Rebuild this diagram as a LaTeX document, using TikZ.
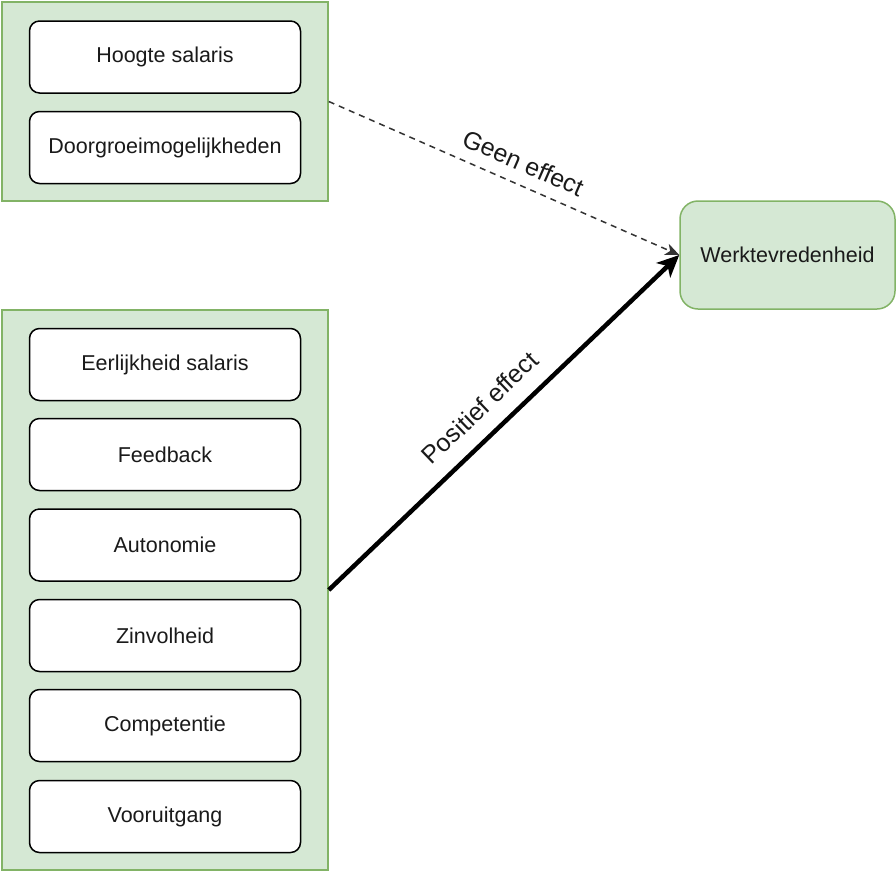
\documentclass[tikz,border=0pt]{standalone}
\usepackage{fontspec}
\setmainfont{Liberation Sans}
\usetikzlibrary{arrows.meta}
\definecolor{grpfill}{HTML}{D5E8D4}
\definecolor{grpline}{HTML}{82B366}
\definecolor{txt}{HTML}{1A1A1A}
\tikzset{
  group/.style={draw=grpline, fill=grpfill, line width=1.5pt, rectangle, inner sep=0pt},
  item/.style={draw=black, fill=white, line width=1.5pt, rounded corners=10pt,
    minimum width=271pt, minimum height=72pt, inner sep=0pt, text=txt,
    font=\fontsize{21.5}{26}\selectfont},
  target/.style={draw=grpline, fill=grpfill, line width=1.5pt, rounded corners=18pt,
    minimum width=215pt, minimum height=108pt, inner sep=0pt, text=txt,
    font=\fontsize{21.5}{26}\selectfont},
  elabel/.style={text=txt, font=\fontsize{25}{30}\selectfont, inner sep=0pt},
  noeffect/.style={draw=black!80, line width=1.5pt, dash pattern=on 6pt off 5pt,
    -{Stealth[length=14pt, width=12pt, inset=4pt]}},
  poseffect/.style={draw=black, line width=4.5pt,
    -{Stealth[length=22pt, width=20pt, inset=6pt]}}
}
\begin{document}
\begin{tikzpicture}[x=1pt, y=-1pt]
  \useasboundingbox (0,0) rectangle (896,871);

  % groups of factors
  \node[group, minimum width=326pt, minimum height=199pt] (topgrp) at (165,101.5) {};
  \node[group, minimum width=326pt, minimum height=560pt] (botgrp) at (165,590) {};

  % factors without effect
  \node[item] (hoogte) at (165,57) {Hoogte salaris};
  \node[item] (doorgroei) at (165,147.5) {Doorgroeimogelijkheden};

  % factors with positive effect
  \node[item] (eerlijk) at (165,364.5) {Eerlijkheid salaris};
  \node[item] (feedback) at (165,454.5) {Feedback};
  \node[item] (autonomie) at (165,545) {Autonomie};
  \node[item] (zinvol) at (165,635.5) {Zinvolheid};
  \node[item] (competentie) at (165,725.5) {Competentie};
  \node[item] (vooruit) at (165,816.5) {Vooruitgang};

  % outcome
  \node[target] (werk) at (787.5,255) {Werktevredenheid};

  % effects
  \draw[noeffect] (topgrp.east) -- (werk.west)
    node[elabel, sloped, above=12pt, pos=0.53] {Geen effect};
  \draw[poseffect] (botgrp.east) -- (werk.west)
    node[elabel, sloped, above=16pt, pos=0.485] {Positief effect};
\end{tikzpicture}
\end{document}
